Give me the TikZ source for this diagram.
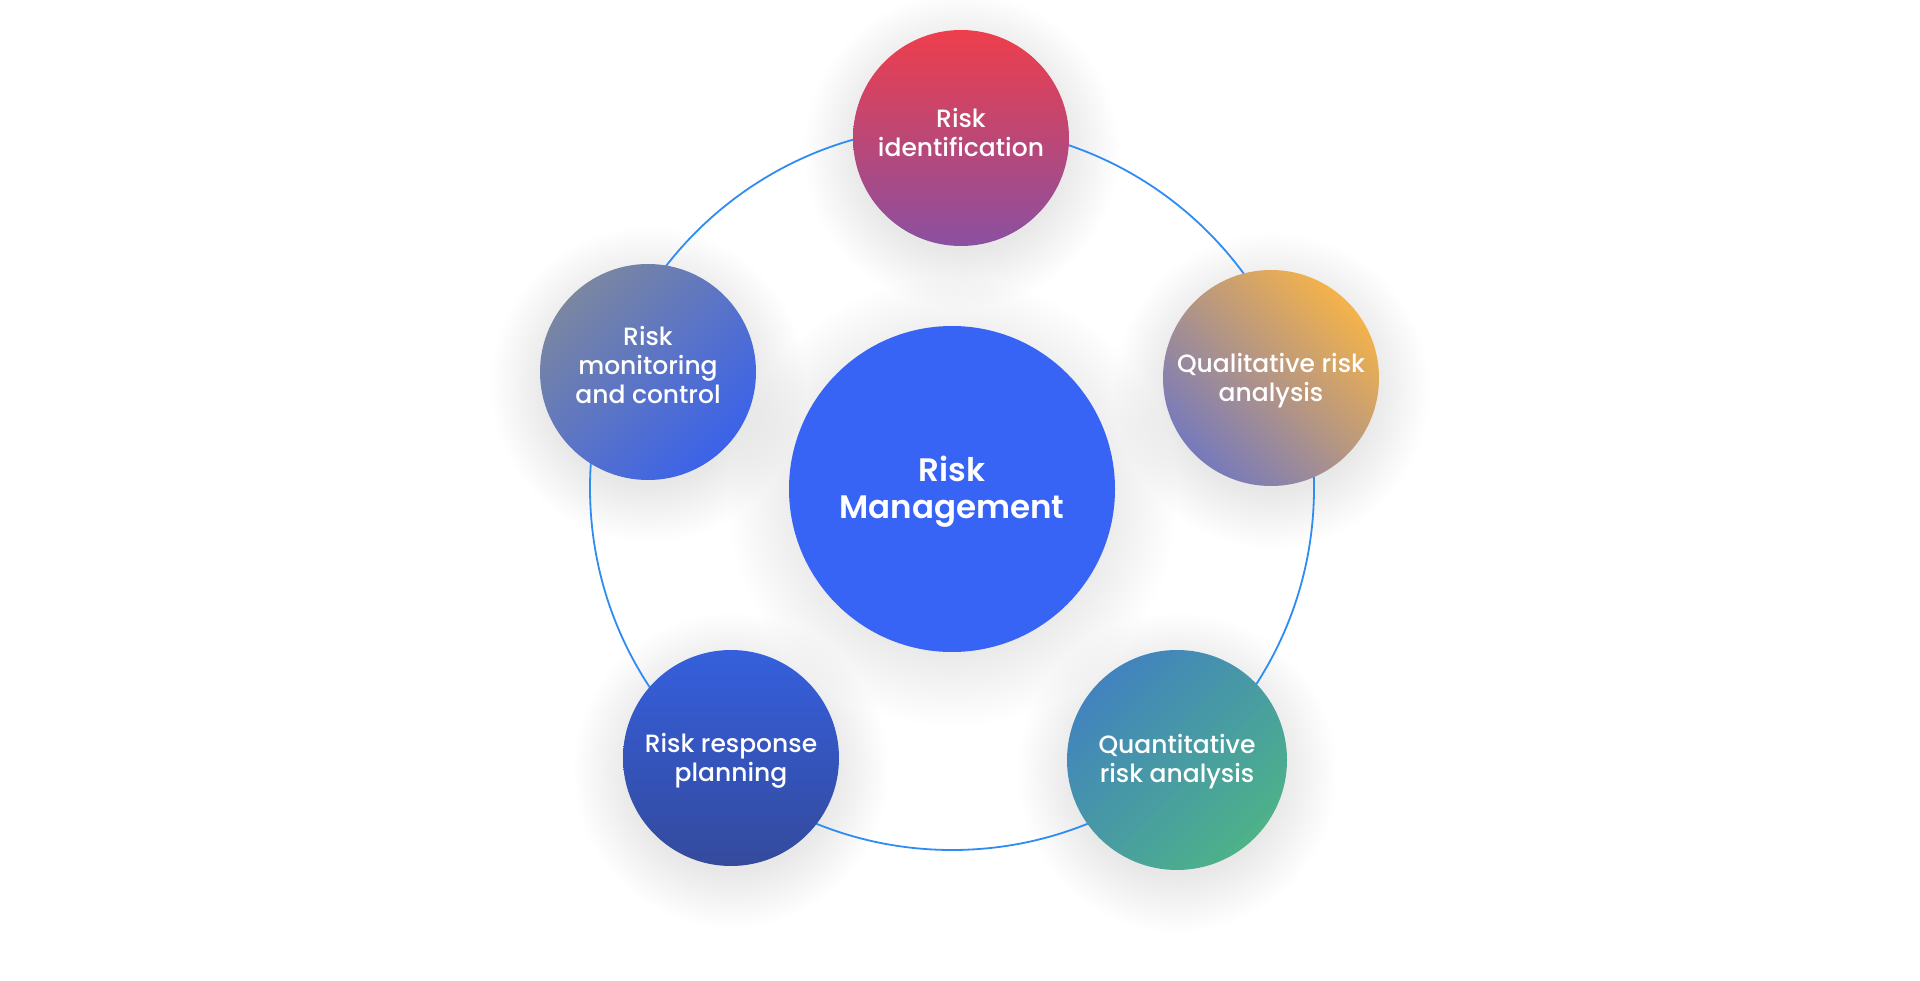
\documentclass[tikz,border=0pt]{standalone}
\usepackage{fontspec}
\setmainfont{Poppins}[UprightFont=* Medium, BoldFont=* SemiBold]
\usetikzlibrary{fadings}
\definecolor{ring}{HTML}{2E8CF2}
\definecolor{core}{HTML}{3864F5}
\definecolor{idA}{HTML}{EE3E4C}
\definecolor{idB}{HTML}{8A50A0}
\definecolor{qlA}{HTML}{F4B34A}
\definecolor{qlB}{HTML}{7679BC}
\definecolor{qnA}{HTML}{4283BE}
\definecolor{qnB}{HTML}{4DB289}
\definecolor{rpA}{HTML}{355FDD}
\definecolor{rpB}{HTML}{344A9C}
\definecolor{mcA}{HTML}{7A86A2}
\definecolor{mcB}{HTML}{3B62EA}
\pgfdeclareradialshading{halomask}{\pgfpoint{0bp}{0bp}}{color(0bp)=(pgftransparent!0); color(16bp)=(pgftransparent!0); color(25bp)=(pgftransparent!100); color(50bp)=(pgftransparent!100)}
\pgfdeclarefading{halofade}{\pgfuseshading{halomask}}
\tikzset{
  stage/.style={circle, minimum size=216pt, inner sep=0pt},
  stagetext/.style={text=white, align=center, font=\fontsize{25}{29}\selectfont, inner sep=0pt},
  hubtext/.style={text=white, align=center, font=\fontsize{32.5}{37}\selectfont\bfseries, inner sep=0pt},
  hub/.style={circle, minimum size=326pt, inner sep=0pt, fill=core},
  loop/.style={draw=ring, line width=1.8pt},
  halo/.style={fill=black, fill opacity=0.09, path fading=halofade}
}
\begin{document}
\begin{tikzpicture}[x=1pt, y=-1pt]
\useasboundingbox (0,0) rectangle (1920,981);
\fill[white] (0,0) rectangle (1920,981);
% soft shadows
\fill[halo] (952,501) circle (225pt);
\fill[halo] (961,150) circle (158pt);
\fill[halo] (1271,390) circle (158pt);
\fill[halo] (1177,772) circle (160pt);
\fill[halo] (731,770) circle (158pt);
\fill[halo] (648,384) circle (158pt);
\coordinate (mid) at (952,488);
\draw[loop] (mid) circle (362pt);
\node[hub, label={[hubtext, name=coretext, yshift=-3pt]center:Risk\\Management}] (core) at (952,489) {};
\node[stage, top color=idA, bottom color=idB,
  label={[stagetext, name=identtext, yshift=6pt]center:Risk\\identification}] (ident) at (961,138) {};
\node[stage, top color=qlA, bottom color=qlB, shading angle=-45,
  label={[stagetext, name=qualtext, yshift=-3pt]center:Qualitative risk\\analysis}] (qual) at (1271,378) {};
\node[stage, top color=qnA, bottom color=qnB, shading angle=45, minimum size=220pt,
  label={[stagetext, name=quanttext, yshift=-2pt]center:Quantitative\\risk analysis}] (quant) at (1177,760) {};
\node[stage, top color=rpA, bottom color=rpB,
  label={[stagetext, name=resptext, yshift=-3pt]center:Risk response\\planning}] (resp) at (731,758) {};
\node[stage, top color=mcA, bottom color=mcB, shading angle=45,
  label={[stagetext, name=monittext, yshift=7pt]center:Risk\\monitoring\\and control}] (monit) at (648,372) {};
\end{tikzpicture}
\end{document}
